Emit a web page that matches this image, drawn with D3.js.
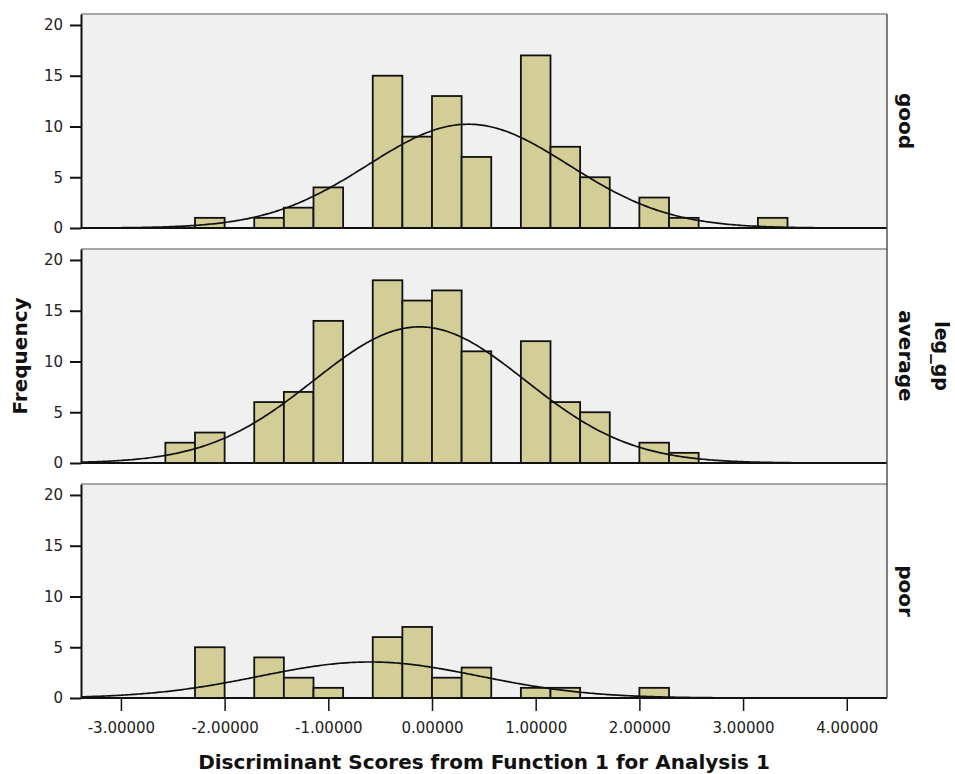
<!DOCTYPE html>
<html>
<head>
<meta charset="utf-8">
<script src="https://cdn.jsdelivr.net/npm/d3@7/dist/d3.min.js"></script>
<style>
  body { margin: 0; background: #fff; }
  text { font-family: "DejaVu Sans", Verdana, sans-serif; }
</style>
</head>
<body>
<svg></svg>
<script>
var width = 955;
var height = 774;

// panel groups (leg_gp)
var groups = ["good", "average", "poor"];

// histogram bins: lower edges, width 2/7
var binWidth = 2 / 7;
var binIndex = [-9, -8, -7, -6, -5, -4, -3, -2, -1, 0, 1, 2, 3, 4, 5, 6, 7, 8, 9, 10, 11];

// frequencies per bin
var goodCounts    = [0, 1, 0, 1, 2, 4, 0, 15, 9, 13, 7, 0, 17, 8, 5, 0, 3, 1, 0, 0, 1];
var averageCounts = [2, 3, 0, 6, 7, 14, 0, 18, 16, 17, 11, 0, 12, 6, 5, 0, 2, 1, 0, 0, 0];
var poorCounts    = [0, 5, 0, 4, 2, 1, 0, 6, 7, 2, 3, 0, 1, 1, 0, 0, 1, 0, 0, 0, 0];

// normal curve parameters per group
var fitMean = [0.35, -0.12, -0.60];
var fitSd   = [0.97, 1.02, 1.06];

var xTicks = [-3, -2, -1, 0, 1, 2, 3, 4];
var yTicks = [0, 5, 10, 15, 20];

var counts = [goodCounts, averageCounts, poorCounts];

var svg = d3.select("svg")
    .attr("width", width)
    .attr("height", height);

var left = 81, right = 887;
var panelTop = [14, 249, 484];
var panelH = 214;

var x = d3.scaleLinear()
    .domain([-3.385, 4.388])
    .range([left, right]);

var barFill = "#d3ce97";

groups.forEach(function(name, gi) {
  var top = panelTop[gi];
  var y = d3.scaleLinear()
      .domain([0, 21.08])
      .range([top + panelH, top]);

  var g = svg.append("g");

  // background
  g.append("rect")
      .attr("x", left)
      .attr("y", top)
      .attr("width", right - left)
      .attr("height", panelH)
      .attr("fill", "#f0f0f0");

  // top border
  g.append("line")
      .attr("x1", left).attr("x2", right)
      .attr("y1", top).attr("y2", top)
      .attr("stroke", "#8c8c8c")
      .attr("stroke-width", 1.5);

  var bins = binIndex.map(function(k, i) {
    return { x0: k * binWidth, x1: (k + 1) * binWidth, n: counts[gi][i] };
  }).filter(function(d) { return d.n > 0; });

  g.selectAll(".bar")
    .data(bins)
    .enter().append("rect")
      .attr("class", "bar")
      .attr("x", function(d) { return x(d.x0); })
      .attr("y", function(d) { return y(d.n); })
      .attr("width", function(d) { return x(d.x1) - x(d.x0); })
      .attr("height", function(d) { return y(0) - y(d.n); })
      .attr("fill", barFill)
      .attr("stroke", "#111")
      .attr("stroke-width", 1.8);

  // normal curve scaled to counts
  var total = d3.sum(counts[gi]);
  var mu = fitMean[gi], sd = fitSd[gi];
  var pts = d3.range(x.domain()[0], x.domain()[1] + 0.001, 0.02).map(function(v) {
    var z = (v - mu) / sd;
    return [v, total * binWidth * Math.exp(-0.5 * z * z) / (sd * Math.sqrt(2 * Math.PI))];
  });
  var line = d3.line()
      .x(function(d) { return x(d[0]); })
      .y(function(d) { return y(d[1]); });
  g.append("path")
      .datum(pts)
      .attr("d", line)
      .attr("fill", "none")
      .attr("stroke", "#111")
      .attr("stroke-width", 1.7);

  // baseline
  g.append("line")
      .attr("x1", left).attr("x2", right)
      .attr("y1", y(0)).attr("y2", y(0))
      .attr("stroke", "#111")
      .attr("stroke-width", 2);

  // y axis
  var yAxis = g.append("g")
      .attr("transform", "translate(" + left + ",0)")
      .call(d3.axisLeft(y).tickValues(yTicks).tickSize(11).tickPadding(7).tickSizeOuter(0));
  yAxis.select(".domain").attr("stroke", "#111").attr("stroke-width", 2);
  yAxis.selectAll(".tick line").attr("stroke", "#111").attr("stroke-width", 2);
  yAxis.selectAll(".tick text")
      .attr("fill", "#222")
      .style("font-size", "15px")
      .style("font-family", "DejaVu Sans");

  // strip label
  var cy = top + panelH / 2;
  svg.append("text")
      .attr("transform", "translate(899," + cy + ") rotate(90)")
      .attr("text-anchor", "middle")
      .style("font-size", "20px")
      .style("font-weight", "bold")
      .attr("fill", "#111")
      .text(name);

  // x axis on bottom panel only
  if (gi === groups.length - 1) {
    var xAxis = svg.append("g")
        .attr("transform", "translate(0," + y(0) + ")")
        .call(d3.axisBottom(x).tickValues(xTicks).tickSize(13).tickPadding(11)
          .tickSizeOuter(0)
          .tickFormat(function(d) { return d.toFixed(5); }));
    xAxis.select(".domain").remove();
    xAxis.selectAll(".tick line").attr("stroke", "#111").attr("stroke-width", 1.5);
    xAxis.selectAll(".tick text")
        .attr("fill", "#222")
        .style("font-size", "15px")
        .style("font-family", "DejaVu Sans");
  }
});

// right frame line spanning all panels
svg.append("line")
    .attr("x1", right).attr("x2", right)
    .attr("y1", panelTop[0]).attr("y2", panelTop[2] + panelH)
    .attr("stroke", "#555")
    .attr("stroke-width", 1.5);

// facet variable name
svg.append("text")
    .attr("transform", "translate(935," + (panelTop[1] + panelH / 2) + ") rotate(90)")
    .attr("text-anchor", "middle")
    .style("font-size", "19px")
    .style("font-weight", "bold")
    .attr("fill", "#111")
    .text("leg_gp");

// axis titles
svg.append("text")
    .attr("transform", "translate(27," + (panelTop[1] + panelH / 2) + ") rotate(-90)")
    .attr("text-anchor", "middle")
    .style("font-size", "20px")
    .style("font-weight", "bold")
    .attr("fill", "#111")
    .text("Frequency");

svg.append("text")
    .attr("x", (left + right) / 2)
    .attr("y", 769)
    .attr("text-anchor", "middle")
    .style("font-size", "20px")
    .style("font-weight", "bold")
    .attr("fill", "#111")
    .text("Discriminant Scores from Function 1 for Analysis 1");
</script>
</body>
</html>
